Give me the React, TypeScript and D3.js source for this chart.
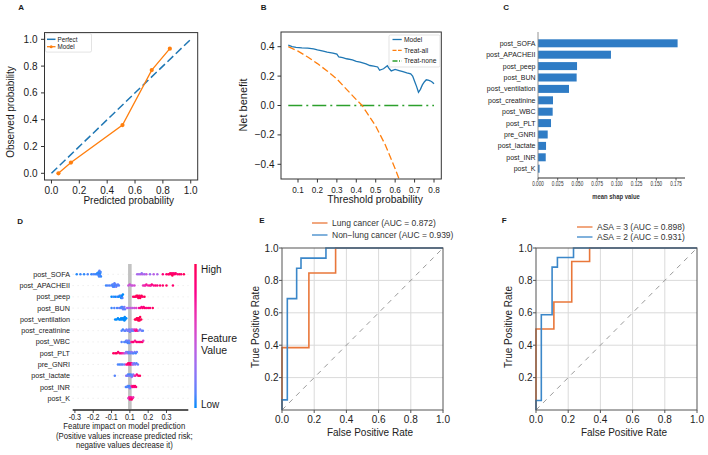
import * as d3 from "d3";

const FONT = "Arial, 'Liberation Sans', Helvetica, sans-serif";
const TAB_BLUE = "#1f77b4";
const TAB_ORANGE = "#ff7f0e";
const TAB_GREEN = "#2ca02c";
const INK = "#1a1a1a";

// A: calibration curve
const calibPred = [0.05, 0.14, 0.51, 0.72, 0.85];
const calibObs = [0.0, 0.08, 0.36, 0.77, 0.93];
const unitTicks = [0, 0.2, 0.4, 0.6, 0.8, 1.0];

// B: decision curve
const dcaThresh = [0.05, 0.07, 0.09, 0.12, 0.15, 0.18, 0.2, 0.23, 0.25, 0.28, 0.3, 0.31, 0.33, 0.35, 0.38, 0.4, 0.42, 0.45, 0.47, 0.49, 0.51, 0.52, 0.53, 0.54, 0.56, 0.57, 0.58, 0.6, 0.62, 0.64, 0.66, 0.68, 0.69, 0.7, 0.71, 0.72, 0.73, 0.74, 0.75, 0.76, 0.77, 0.78, 0.79, 0.8];
const dcaModel = [0.41, 0.4, 0.395, 0.392, 0.39, 0.385, 0.378, 0.37, 0.363, 0.357, 0.35, 0.33, 0.325, 0.318, 0.31, 0.3, 0.295, 0.283, 0.272, 0.268, 0.262, 0.24, 0.245, 0.25, 0.27, 0.25, 0.235, 0.245, 0.238, 0.23, 0.222, 0.215, 0.2, 0.165, 0.13, 0.09, 0.11, 0.14, 0.16, 0.175, 0.172, 0.168, 0.16, 0.148];
const treatAllThresh = [0.05, 0.1, 0.15, 0.2, 0.25, 0.3, 0.35, 0.4, 0.43, 0.45, 0.5, 0.55, 0.6, 0.62];
const treatAllNB = [0.4, 0.37, 0.33, 0.285, 0.235, 0.18, 0.11, 0.04, 0.0, -0.04, -0.14, -0.27, -0.43, -0.5];
const treatNoneThresh = [0.05, 0.8];
const treatNoneNB = [0, 0];
const dcaXTicks = [0.1, 0.2, 0.3, 0.4, 0.5, 0.6, 0.7, 0.8];
const dcaYTicks = [-0.4, -0.2, 0, 0.2, 0.4];

// C / D: SHAP importance
const features = ["post_SOFA", "post_APACHEII", "post_peep", "post_BUN", "post_ventilation", "post_creatinine", "post_WBC", "post_PLT", "pre_GNRI", "post_lactate", "post_INR", "post_K"];
const meanShap = [0.177, 0.0925, 0.0495, 0.049, 0.0393, 0.019, 0.0186, 0.0165, 0.0123, 0.0102, 0.0098, 0.002];
const barTicks = [0, 0.025, 0.05, 0.075, 0.1, 0.125, 0.15, 0.175];

// [shap value, normalised feature value]
const dSOFA: [number, number][] = [
  [-0.29, 0.02], [-0.27, 0.05], [-0.25, 0.03], [-0.23, 0.08], [-0.21, 0.04], [-0.2, 0.1], [-0.19, 0.06], [-0.18, 0.05], [-0.178, 0.02], [-0.175, 0.08],
  [-0.172, 0.04], [-0.17, 0.1], [-0.17, 0.03], [-0.168, 0.06], [-0.166, 0.12], [-0.165, 0.05], [-0.163, 0.02], [-0.162, 0.09], [-0.16, 0.07], [-0.158, 0.04],
  [0.04, 0.35], [0.05, 0.3], [0.06, 0.4], [0.065, 0.25], [0.07, 0.38], [0.08, 0.3], [0.09, 0.45], [0.11, 0.28], [0.13, 0.4], [0.15, 0.35],
  [0.18, 0.85], [0.2, 0.9], [0.21, 0.95], [0.215, 0.88], [0.22, 0.92], [0.225, 0.97], [0.23, 0.9], [0.232, 1], [0.235, 0.93], [0.24, 0.87],
  [0.245, 0.96], [0.25, 0.9], [0.26, 0.85], [0.27, 0.95], [0.28, 0.9], [0.295, 0.98],
];
const dAPACHE: [number, number][] = [
  [-0.13, 0.05], [-0.12, 0.1], [-0.11, 0.08], [-0.1, 0.12], [-0.095, 0.06], [-0.092, 0.1], [-0.09, 0.04], [-0.088, 0.15], [-0.086, 0.08], [-0.084, 0.12],
  [-0.08, 0.05], [-0.078, 0.1], [-0.075, 0.18], [-0.07, 0.08], [-0.065, 0.14], [-0.06, 0.1],
  [-0.008, 0.45], [0.0, 0.5], [0.008, 0.42], [0.015, 0.48], [0.025, 0.5],
  [0.072, 0.6], [0.08, 0.7], [0.085, 0.65], [0.09, 0.75], [0.1, 0.72], [0.11, 0.8], [0.115, 0.68], [0.12, 0.85], [0.13, 0.78], [0.14, 0.9],
  [0.15, 0.82], [0.165, 0.88], [0.18, 0.92], [0.2, 0.95], [0.235, 0.9],
];
const dPeep: [number, number][] = [
  [-0.1, 0.0], [-0.09, 0.05], [-0.08, 0.0], [-0.07, 0.1], [-0.062, 0.0], [-0.056, 0.05], [-0.052, 0.0], [-0.049, 0.08], [-0.047, 0.0], [-0.045, 0.05],
  [-0.043, 0.0], [-0.041, 0.1], [-0.038, 0.0],
  [0.018, 0.9], [0.026, 1], [0.032, 0.95], [0.036, 1], [0.04, 0.9], [0.043, 1], [0.046, 0.95], [0.05, 1], [0.053, 0.9], [0.056, 1], [0.06, 0.95],
  [0.064, 1], [0.07, 0.9], [0.08, 1],
];
const dBUN: [number, number][] = [
  [-0.1, 0.05], [-0.085, 0.1], [-0.07, 0.08], [-0.058, 0.15], [-0.05, 0.1], [-0.046, 0.05], [-0.043, 0.12], [-0.04, 0.08], [-0.037, 0.15], [-0.034, 0.1],
  [-0.03, 0.2], [-0.027, 0.12],
  [-0.015, 0.35], [-0.005, 0.3], [0.005, 0.45], [0.015, 0.4], [0.025, 0.5], [0.035, 0.55],
  [0.05, 0.75], [0.058, 0.85], [0.064, 0.8], [0.07, 0.9], [0.075, 0.85], [0.082, 0.95], [0.09, 0.8], [0.1, 0.9], [0.11, 0.85], [0.125, 0.95],
];
const dVent: [number, number][] = [
  [-0.08, 0], [-0.072, 0], [-0.065, 0], [-0.058, 0], [-0.052, 0], [-0.048, 0], [-0.044, 0], [-0.04, 0], [-0.036, 0], [-0.033, 0], [-0.03, 0], [-0.028, 0],
  [-0.025, 0], [-0.02, 0],
  [0.028, 1], [0.034, 1], [0.038, 1], [0.041, 1], [0.044, 1], [0.046, 1], [0.048, 1], [0.05, 1], [0.053, 1], [0.056, 1], [0.062, 1],
];
const dCreat: [number, number][] = [
  [-0.045, 0.1], [-0.038, 0.05], [-0.03, 0.15], [-0.024, 0.1], [-0.018, 0.2], [-0.012, 0.1], [-0.008, 0.25], [-0.004, 0.15], [0, 0.1], [0.004, 0.3],
  [0.008, 0.2], [0.012, 0.1], [0.016, 0.35], [0.02, 0.15], [0.025, 0.6], [0.03, 0.8], [0.035, 0.7], [0.04, 0.9], [0.048, 0.3], [0.056, 0.15],
  [0.064, 0.2], [0.071, 0.1],
];
const dWBC: [number, number][] = [
  [-0.045, 0.1], [-0.03, 0.05], [-0.024, 0.15], [-0.02, 0.1], [-0.017, 0.05], [-0.014, 0.2], [-0.011, 0.1], [-0.008, 0.05], [-0.005, 0.15], [-0.002, 0.1],
  [0.008, 0.7], [0.014, 0.85], [0.02, 0.9], [0.028, 0.75], [0.036, 0.95], [0.044, 0.8], [0.052, 0.9], [0.06, 0.85], [0.068, 0.95], [0.073, 0.6],
];
const dPLT: [number, number][] = [
  [-0.09, 0.95], [-0.08, 0.9], [-0.072, 1], [-0.064, 0.85], [-0.056, 0.95], [-0.048, 0.8], [-0.04, 0.7], [-0.032, 0.6],
  [-0.025, 0.3], [-0.02, 0.2], [-0.015, 0.4], [-0.01, 0.15], [-0.005, 0.1], [0, 0.2], [0.005, 0.1], [0.01, 0.25], [0.015, 0.15], [0.02, 0.1],
  [0.026, 0.2], [0.032, 0.05], [0.038, 0.15],
];
const dGNRI: [number, number][] = [
  [-0.065, 0.1], [-0.056, 0.05], [-0.048, 0.15], [-0.04, 0.1], [-0.03, 0.2],
  [-0.02, 0.7], [-0.014, 0.85], [-0.009, 0.95], [-0.005, 0.8], [0, 0.9], [0.004, 1], [0.008, 0.85], [0.012, 0.6], [0.016, 0.35], [0.02, 0.2],
  [0.025, 0.15], [0.03, 0.25], [0.036, 0.1], [0.044, 0.15],
];
const dLact: [number, number][] = [
  [-0.082, 0.1], [-0.02, 0.3], [-0.015, 0.15], [-0.01, 0.1], [-0.006, 0.2], [-0.002, 0.05], [0.002, 0.15], [0.006, 0.1], [0.01, 0.25], [0.014, 0.1],
  [0.018, 0.2], [0.024, 0.5], [0.03, 0.7], [0.038, 0.85], [0.046, 0.9], [0.055, 0.95],
];
const dINR: [number, number][] = [
  [-0.022, 0.1], [-0.016, 0.05], [-0.012, 0.15], [-0.008, 0.1], [-0.004, 0.05], [0, 0.2], [0.003, 0.1], [0.009, 0.7], [0.014, 0.85], [0.018, 0.9],
  [0.023, 0.8], [0.028, 0.95], [0.034, 0.85],
];
const dK: [number, number][] = [
  [-0.008, 0.55], [-0.004, 0.7], [0, 0.8], [0.003, 0.9], [0.006, 0.75], [0.01, 0.95], [0.014, 0.85], [0.018, 0.65],
];
const shapRows = [dSOFA, dAPACHE, dPeep, dBUN, dVent, dCreat, dWBC, dPLT, dGNRI, dLact, dINR, dK];
const swarmTicks = [-0.3, -0.2, -0.1, 0, 0.1, 0.2];
const swarmTickLabels = ["-0.3", "-0.2", "-0.1", "0.1", "0.2", "0.3"];

// E: ROC by cancer type
const lungFpr = [0, 0, 0.167, 0.167, 0.333, 0.333, 1];
const lungTpr = [0, 0.385, 0.385, 0.846, 0.846, 1, 1];
const nonLungFpr = [0, 0, 0.033, 0.033, 0.091, 0.091, 0.118, 0.118, 0.273, 0.273, 1];
const nonLungTpr = [0, 0.0625, 0.0625, 0.6875, 0.6875, 0.875, 0.875, 0.9375, 0.9375, 1, 1];

// F: ROC by ASA class
const asa3Fpr = [0, 0, 0.111, 0.111, 0.222, 0.222, 0.333, 0.333, 1];
const asa3Tpr = [0, 0.5, 0.5, 0.667, 0.667, 0.917, 0.917, 1, 1];
const asa2Fpr = [0, 0, 0.033, 0.033, 0.1, 0.1, 0.133, 0.133, 0.233, 0.233, 1];
const asa2Tpr = [0, 0.059, 0.059, 0.588, 0.588, 0.882, 0.882, 0.941, 0.941, 1, 1];

const f1 = d3.format(".1f");
const zip = (a: number[], b: number[]) => a.map((v, i) => [v, b[i]] as [number, number]);

function T({ x, y, size, children, anchor = "start", sx = 1, rotate = 0, weight = "normal", fill = INK, dy }: any) {
  const tf = `translate(${x},${y})` + (rotate ? ` rotate(${rotate})` : "") + (sx !== 1 ? ` scale(${sx},1)` : "");
  return (
    <text transform={tf} fontSize={size} textAnchor={anchor} fontWeight={weight} fill={fill} dy={dy}>
      {children}
    </text>
  );
}

function CalibrationPanel() {
  const x = d3.scaleLinear().domain([-0.05, 1.05]).range([44.5, 197.7]);
  const y = d3.scaleLinear().domain([-0.05, 1.05]).range([180, 32.6]);
  const line = d3.line<[number, number]>().x((d) => x(d[0])).y((d) => y(d[1]));
  const pts = zip(calibPred, calibObs);
  return (
    <g>
      <T x={18.3} y={10} size={8} weight="bold">A</T>
      <path d={line([[0, 0], [1, 1]]) ?? ""} stroke={TAB_BLUE} strokeWidth={1.5} strokeDasharray="8,3.5" fill="none" />
      <path d={line(pts) ?? ""} stroke={TAB_ORANGE} strokeWidth={1.3} fill="none" />
      {pts.map((p, i) => (
        <circle key={i} cx={x(p[0])} cy={y(p[1])} r={2.1} fill={TAB_ORANGE} />
      ))}
      <rect x={x(-0.05)} y={y(1.05)} width={x(1.05) - x(-0.05)} height={y(-0.05) - y(1.05)} fill="none" stroke="#333" strokeWidth={1} />
      {unitTicks.map((t) => (
        <g key={t}>
          <line x1={x(t)} x2={x(t)} y1={180} y2={183.5} stroke="#333" />
          <T x={x(t)} y={194.3} size={10} anchor="middle">{f1(t)}</T>
          <line x1={44.5} x2={41} y1={y(t)} y2={y(t)} stroke="#333" />
          <T x={37.5} y={y(t)} dy="0.35em" size={10} anchor="end">{f1(t)}</T>
        </g>
      ))}
      <rect x={45.5} y={33.6} width={46} height={18.5} rx={1.5} fill="white" stroke="#d0d0d0" strokeWidth={0.6} />
      <line x1={47} x2={55.5} y1={39.3} y2={39.3} stroke={TAB_BLUE} strokeWidth={1.5} />
      <line x1={47} x2={55.5} y1={46.7} y2={46.7} stroke={TAB_ORANGE} strokeWidth={1.3} />
      <circle cx={51.2} cy={46.7} r={1.5} fill={TAB_ORANGE} />
      <T x={57.5} y={41.5} size={6.3}>Perfect</T>
      <T x={57.5} y={48.9} size={6.3}>Model</T>
      <T x={128.7} y={204} size={10} anchor="middle">Predicted probability</T>
      <T x={13.5} y={112} size={10} anchor="middle" rotate={-90}>Observed probability</T>
    </g>
  );
}

function DecisionPanel() {
  const x = d3.scaleLinear().domain([0.0125, 0.8375]).range([281, 441.3]);
  const y = d3.scaleLinear().domain([-0.5, 0.5]).range([179, 32]);
  const line = d3.line<[number, number]>().x((d) => x(d[0])).y((d) => y(d[1]));
  return (
    <g>
      <T x={260.7} y={10} size={8} weight="bold">B</T>
      <clipPath id="dca-clip">
        <rect x={281} y={32} width={160.3} height={147} />
      </clipPath>
      <g clipPath="url(#dca-clip)">
        <path d={line(zip(treatNoneThresh, treatNoneNB)) ?? ""} stroke={TAB_GREEN} strokeWidth={1.3} strokeDasharray="14,4,2,4" fill="none" />
        <path d={line(zip(treatAllThresh, treatAllNB)) ?? ""} stroke={TAB_ORANGE} strokeWidth={1.3} strokeDasharray="7,3" fill="none" />
        <path d={line(zip(dcaThresh, dcaModel)) ?? ""} stroke={TAB_BLUE} strokeWidth={1.3} fill="none" />
      </g>
      <rect x={281} y={32} width={160.3} height={147} fill="none" stroke="#333" />
      {dcaXTicks.map((t) => (
        <g key={t}>
          <line x1={x(t)} x2={x(t)} y1={179} y2={182.5} stroke="#333" />
          <T x={x(t)} y={192.7} size={9.3} sx={0.88} anchor="middle">{f1(t)}</T>
        </g>
      ))}
      {dcaYTicks.map((t) => (
        <g key={t}>
          <line x1={281} x2={277.5} y1={y(t)} y2={y(t)} stroke="#333" />
          <T x={274.5} y={y(t)} dy="0.35em" size={10} anchor="end">{f1(t)}</T>
        </g>
      ))}
      <rect x={389} y={35} width={51} height={32} rx={1.5} fill="white" fillOpacity={0.85} stroke="#d0d0d0" strokeWidth={0.6} />
      <line x1={392.5} x2={401.7} y1={39.5} y2={39.5} stroke={TAB_BLUE} strokeWidth={1.3} />
      <line x1={392.5} x2={401.7} y1={50.3} y2={50.3} stroke={TAB_ORANGE} strokeWidth={1.3} strokeDasharray="4,1.5" />
      <line x1={392.5} x2={401.7} y1={61} y2={61} stroke={TAB_GREEN} strokeWidth={1.3} strokeDasharray="5,1.5,1,1.5" />
      <T x={404} y={41.8} size={6.7}>Model</T>
      <T x={404} y={52.6} size={6.7}>Treat-all</T>
      <T x={404} y={63.3} size={6.7}>Treat-none</T>
      <T x={375} y={203.3} size={10.3} anchor="middle">Threshold probability</T>
      <T x={246.5} y={105} size={11} anchor="middle" rotate={-90}>Net benefit</T>
    </g>
  );
}

function ImportancePanel() {
  const x = d3.scaleLinear().domain([0, 0.186]).range([538, 684.7]);
  const y = d3.scalePoint<string>().domain(features).range([43.3, 168.7]);
  const barH = 8;
  return (
    <g>
      <T x={503.3} y={10} size={8} weight="bold">C</T>
      {features.map((f, i) => (
        <g key={f}>
          <rect x={x(0)} y={(y(f) ?? 0) - barH / 2} width={x(meanShap[i]) - x(0)} height={barH} fill="#2f7cc5" />
          <T x={535.5} y={y(f) ?? 0} dy="0.35em" size={7} anchor="end" fill="#222">{f}</T>
        </g>
      ))}
      <line x1={538} x2={538} y1={32} y2={178} stroke="#888" strokeWidth={0.9} />
      <line x1={538} x2={685} y1={178} y2={178} stroke="#333" strokeWidth={1.2} />
      {barTicks.map((t) => (
        <g key={t}>
          <line x1={x(t)} x2={x(t)} y1={178} y2={180.5} stroke="#333" strokeWidth={0.8} />
          <T x={x(t)} y={185.8} size={6.5} sx={0.72} anchor="middle" fill="#333">{d3.format(".3f")(t)}</T>
        </g>
      ))}
      <T x={616} y={199} size={7.2} sx={0.82} weight="bold" anchor="middle" fill="#333">mean shap value</T>
    </g>
  );
}

function swarm(points: [number, number][], x: (v: number) => number) {
  const sorted = [...points].sort((a, b) => a[0] - b[0]);
  const counts = new Map<number, number>();
  return sorted.map(([s, v]) => {
    const px = x(s);
    const bin = Math.round(px / 1.7);
    const c = counts.get(bin) ?? 0;
    counts.set(bin, c + 1);
    const off = c === 0 ? 0 : (c % 2 === 1 ? -1 : 1) * Math.ceil(c / 2) * 1.15;
    return { px, off: Math.max(-4.6, Math.min(4.6, off)), v };
  });
}

function SwarmPanel() {
  const x = d3.scaleLinear().domain([-0.312, 0.319]).range([72.7, 188.3]);
  const y = d3.scalePoint<string>().domain(features).range([274.3, 398.3]);
  const color = d3.interpolateHcl("#008bfb", "#ff0052");
  const stops = d3.range(0, 1.001, 0.1);
  return (
    <g>
      <T x={17.3} y={223.5} size={8} weight="bold">D</T>
      <defs>
        <linearGradient id="shap-cbar" x1="0" y1="1" x2="0" y2="0">
          {stops.map((s) => (
            <stop key={s} offset={s} stopColor={color(s)} />
          ))}
        </linearGradient>
      </defs>
      {features.map((f) => (
        <line key={f} x1={72.7} x2={188.3} y1={y(f)} y2={y(f)} stroke="#cccccc" strokeWidth={0.6} strokeDasharray="0.8,4.2" />
      ))}
      <line x1={x(0)} x2={x(0)} y1={264} y2={409} stroke="#c2c2c2" strokeWidth={3.6} />
      {features.map((f, i) => (
        <g key={f}>
          {swarm(shapRows[i], x).map((d, j) => (
            <circle key={j} cx={d.px} cy={(y(f) ?? 0) + d.off} r={1.25} fill={color(d.v)} />
          ))}
          <T x={70} y={y(f) ?? 0} dy="0.35em" size={7.2} anchor="end" fill="#222">{f}</T>
        </g>
      ))}
      <line x1={72.7} x2={188.3} y1={410} y2={410} stroke="#222" strokeWidth={1.3} />
      {swarmTicks.map((t, i) => (
        <g key={t}>
          <line x1={x(t)} x2={x(t)} y1={410} y2={413} stroke="#222" strokeWidth={0.8} />
          <T x={x(t)} y={419.5} size={9} sx={0.8} anchor="middle">{swarmTickLabels[i]}</T>
        </g>
      ))}
      <rect x={194.3} y={264} width={2.4} height={144} fill="url(#shap-cbar)" />
      <T x={201} y={272.5} size={10}>High</T>
      <T x={201} y={341.7} size={10.5}>Feature</T>
      <T x={201} y={354} size={10.5}>Value</T>
      <T x={201} y={408} size={10}>Low</T>
      <T x={124.3} y={429} size={9.5} sx={0.82} anchor="middle">Feature impact on model prediction</T>
      <T x={124.3} y={438.6} size={9.5} sx={0.82} anchor="middle">(Positive values increase predicted risk;</T>
      <T x={124.3} y={448.3} size={9.5} sx={0.82} anchor="middle">negative values decrease it)</T>
    </g>
  );
}

type RocCurve = { fpr: number[]; tpr: number[]; color: string; label: string };

function RocPanel({ left, letter, letterX, curves, legendLineX, legendY, ylabelX }: { left: number; letter: string; letterX: number; curves: RocCurve[]; legendLineX: number; legendY: number[]; ylabelX: number }) {
  const x = d3.scaleLinear().domain([0, 1]).range([left, left + 161]);
  const y = d3.scaleLinear().domain([0, 1]).range([410, 248]);
  const line = d3.line<[number, number]>().x((d) => x(d[0])).y((d) => y(d[1]));
  const grid = [0.2, 0.4, 0.6, 0.8];
  return (
    <g>
      <T x={letterX} y={223.3} size={8} weight="bold">{letter}</T>
      {grid.map((g) => (
        <g key={g}>
          <line x1={x(g)} x2={x(g)} y1={248} y2={410} stroke="#dadada" strokeWidth={1} />
          <line x1={left} x2={left + 161} y1={y(g)} y2={y(g)} stroke="#dadada" strokeWidth={1} />
        </g>
      ))}
      <path d={line([[0, 0], [1, 1]]) ?? ""} stroke="#9a9a9a" strokeWidth={1} strokeDasharray="5,5" fill="none" />
      {curves.map((c) => (
        <path key={c.label} d={line(zip(c.fpr, c.tpr)) ?? ""} stroke={c.color} strokeWidth={1.6} fill="none" />
      ))}
      <rect x={left} y={248} width={161} height={162} fill="none" stroke="#555" strokeWidth={1} />
      {unitTicks.map((t) => (
        <g key={t}>
          <line x1={x(t)} x2={x(t)} y1={410} y2={413} stroke="#555" />
          <T x={x(t)} y={423} size={10} anchor="middle" fill="#222">{f1(t)}</T>
        </g>
      ))}
      {unitTicks.slice(1).map((t) => (
        <g key={t}>
          <line x1={left} x2={left - 3} y1={y(t)} y2={y(t)} stroke="#555" />
          <T x={left - 3.5} y={y(t)} dy="0.35em" size={10} anchor="end" fill="#222">{f1(t)}</T>
        </g>
      ))}
      {curves.map((c, i) => (
        <g key={c.label}>
          <line x1={legendLineX} x2={legendLineX + 15.5} y1={legendY[i]} y2={legendY[i]} stroke={c.color} strokeWidth={1.3} />
          <T x={legendLineX + 20} y={legendY[i]} dy="0.35em" size={8.5} fill="#333">{c.label}</T>
        </g>
      ))}
      <T x={left + 88} y={436} size={10} anchor="middle" fill="#222">False Positive Rate</T>
      <T x={ylabelX} y={327} size={10} anchor="middle" rotate={-90} fill="#222">True Positive Rate</T>
    </g>
  );
}

export default function App() {
  return (
    <svg
      width={708}
      height={455}
      style={{ position: "absolute", left: 0, top: 0, background: "white" }}
      fontFamily={FONT}
    >
      <rect width={708} height={455} fill="white" />
      <CalibrationPanel />
      <DecisionPanel />
      <ImportancePanel />
      <SwarmPanel />
      <RocPanel
        left={282}
        letter="E"
        letterX={259.3}
        legendLineX={312}
        legendY={[223, 235]}
        ylabelX={258.5}
        curves={[
          { fpr: lungFpr, tpr: lungTpr, color: "#e9773a", label: "Lung cancer (AUC = 0.872)" },
          { fpr: nonLungFpr, tpr: nonLungTpr, color: "#3b87c9", label: "Non\u2212lung cancer (AUC = 0.939)" },
        ]}
      />
      <RocPanel
        left={536}
        letter="F"
        letterX={501.7}
        legendLineX={577}
        legendY={[227, 237]}
        ylabelX={511.5}
        curves={[
          { fpr: asa3Fpr, tpr: asa3Tpr, color: "#e9773a", label: "ASA = 3 (AUC = 0.898)" },
          { fpr: asa2Fpr, tpr: asa2Tpr, color: "#3b87c9", label: "ASA = 2 (AUC = 0.931)" },
        ]}
      />
    </svg>
  );
}
